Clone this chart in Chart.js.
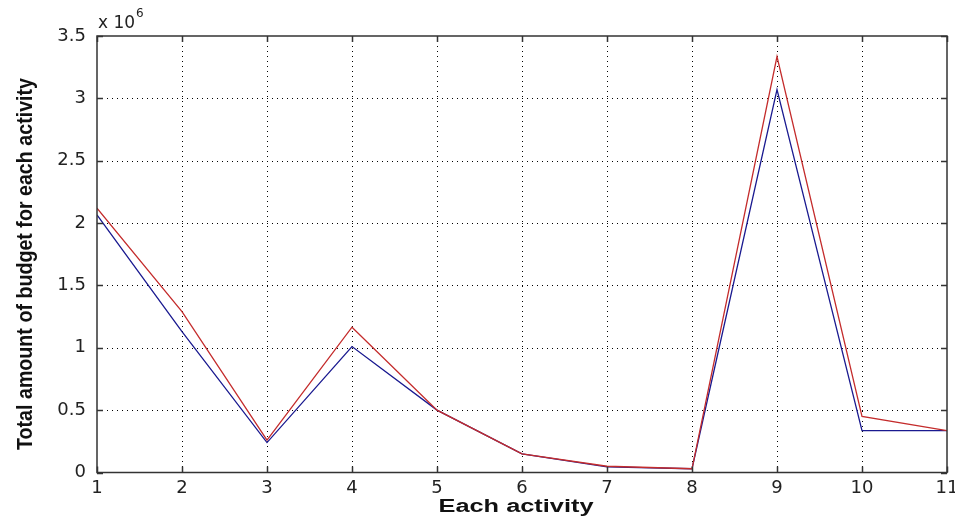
<!DOCTYPE html>
<html>
<head>
<meta charset="utf-8">
<script src="https://cdn.jsdelivr.net/npm/chart.js@4/dist/chart.umd.min.js"></script>
<style>
html,body{margin:0;padding:0;background:#fff;}
#wrap{width:955px;height:518px;position:relative;}
</style>
</head>
<body>
<div id="wrap"><canvas id="c" width="955" height="518"></canvas></div>
<script>
const activities = [1,2,3,4,5,6,7,8,9,10,11];
const seriesBlue = [2.065,1.13,0.24,1.01,0.50,0.15,0.045,0.03,3.07,0.335,0.335];
const seriesRed  = [2.12,1.29,0.26,1.165,0.50,0.15,0.05,0.03,3.335,0.45,0.335];
const yTicks = [0,0.5,1,1.5,2,2.5,3,3.5];
const xTitle = 'Each activity';
const yTitle = 'Total amount of budget for each activity';

const toPts = arr => arr.map((v,i)=>({x:activities[i], y:v}));
const tickFont = {size:18, family:'"DejaVu Sans", Arial, sans-serif'};

const matlabPlugin = {
  id:'matlab',
  beforeDatasetsDraw(chart){
    const {ctx, chartArea:a, scales:{x,y}} = chart;
    ctx.save();
    ctx.strokeStyle = '#000';
    ctx.lineWidth = 1;
    ctx.setLineDash([1,4]);
    activities.forEach(v=>{
      if (v===activities[0] || v===activities[activities.length-1]) return;
      const px = Math.round(x.getPixelForValue(v))+0.5;
      ctx.beginPath(); ctx.moveTo(px,a.top); ctx.lineTo(px,a.bottom); ctx.stroke();
    });
    yTicks.forEach(v=>{
      if (v===yTicks[0] || v===yTicks[yTicks.length-1]) return;
      const py = Math.round(y.getPixelForValue(v))+0.5;
      ctx.beginPath(); ctx.moveTo(a.left,py); ctx.lineTo(a.right,py); ctx.stroke();
    });
    ctx.restore();
  },
  afterDatasetsDraw(chart){
    const {ctx, chartArea:a, scales:{x,y}} = chart;
    ctx.save();
    ctx.setLineDash([]);
    ctx.strokeStyle = '#333';
    ctx.lineWidth = 1.5;
    ctx.strokeRect(a.left, a.top, a.right-a.left, a.bottom-a.top);
    const tl = 6;
    activities.forEach(v=>{
      const px = Math.round(x.getPixelForValue(v))+0.5;
      ctx.beginPath();
      ctx.moveTo(px,a.bottom); ctx.lineTo(px,a.bottom-tl);
      ctx.moveTo(px,a.top); ctx.lineTo(px,a.top+tl);
      ctx.stroke();
    });
    yTicks.forEach(v=>{
      const py = Math.round(y.getPixelForValue(v))+0.5;
      ctx.beginPath();
      ctx.moveTo(a.left,py); ctx.lineTo(a.left+tl,py);
      ctx.moveTo(a.right,py); ctx.lineTo(a.right-tl,py);
      ctx.stroke();
    });
    // exponent label
    ctx.fillStyle = '#222';
    ctx.font = '17px "DejaVu Sans", Arial, sans-serif';
    ctx.textBaseline = 'alphabetic';
    ctx.textAlign = 'left';
    ctx.fillText('x 10', a.left+1, 28);
    const ew = ctx.measureText('x 10').width;
    ctx.font = '12px "DejaVu Sans", Arial, sans-serif';
    ctx.fillText('6', a.left+2+ew, 17);
    // x title
    ctx.font = 'bold 18px "Liberation Sans", Arial, sans-serif';
    ctx.textAlign = 'center';
    ctx.textBaseline = 'middle';
    const cx = 516;
    let w = ctx.measureText(xTitle).width;
    ctx.save();
    ctx.translate(cx, 507);
    ctx.scale(155/w, 1);
    ctx.fillStyle = '#111';
    ctx.fillText(xTitle, 0, 0);
    ctx.restore();
    // y title
    ctx.font = 'bold 22px "Liberation Sans", Arial, sans-serif';
    w = ctx.measureText(yTitle).width;
    ctx.save();
    ctx.translate(26, 264);
    ctx.rotate(-Math.PI/2);
    ctx.scale(372/w, 1);
    ctx.fillStyle = '#111';
    ctx.fillText(yTitle, 0, 0);
    ctx.restore();
    ctx.restore();
  }
};

new Chart(document.getElementById('c'), {
  type:'line',
  data:{
    datasets:[
      {label:'Blue', data:toPts(seriesBlue), borderColor:'#1a1a90', borderWidth:1.3, pointRadius:0, tension:0, fill:false, order:2},
      {label:'Red', data:toPts(seriesRed), borderColor:'#c42c2c', borderWidth:1.3, pointRadius:0, tension:0, fill:false, order:1}
    ]
  },
  plugins:[matlabPlugin],
  options:{
    responsive:false,
    animation:false,
    devicePixelRatio:1,
    layout:{padding:{top:36, right:8, left:0, bottom:0}},
    plugins:{legend:{display:false}, tooltip:{enabled:false}},
    scales:{
      x:{
        type:'linear', min:1, max:11,
        grid:{display:false, drawTicks:false},
        border:{display:false},
        afterBuildTicks(s){ s.ticks = activities.map(v=>({value:v})); },
        afterFit(s){ s.height = 45.5; s.paddingLeft = 0; s.paddingRight = 0; },
        ticks:{padding:5, color:'#222', font:tickFont, maxRotation:0, autoSkip:false,
          callback:v=>String(v)}
      },
      y:{
        type:'linear', min:0, max:3.5,
        grid:{display:false, drawTicks:false},
        border:{display:false},
        afterBuildTicks(s){ s.ticks = yTicks.map(v=>({value:v})); },
        afterFit(s){ s.width = 97; s.paddingTop = 0; s.paddingBottom = 0; },
        ticks:{padding:11, color:'#222', font:tickFont, autoSkip:false,
          callback:v=>String(v)}
      }
    }
  }
});
</script>
</body>
</html>
